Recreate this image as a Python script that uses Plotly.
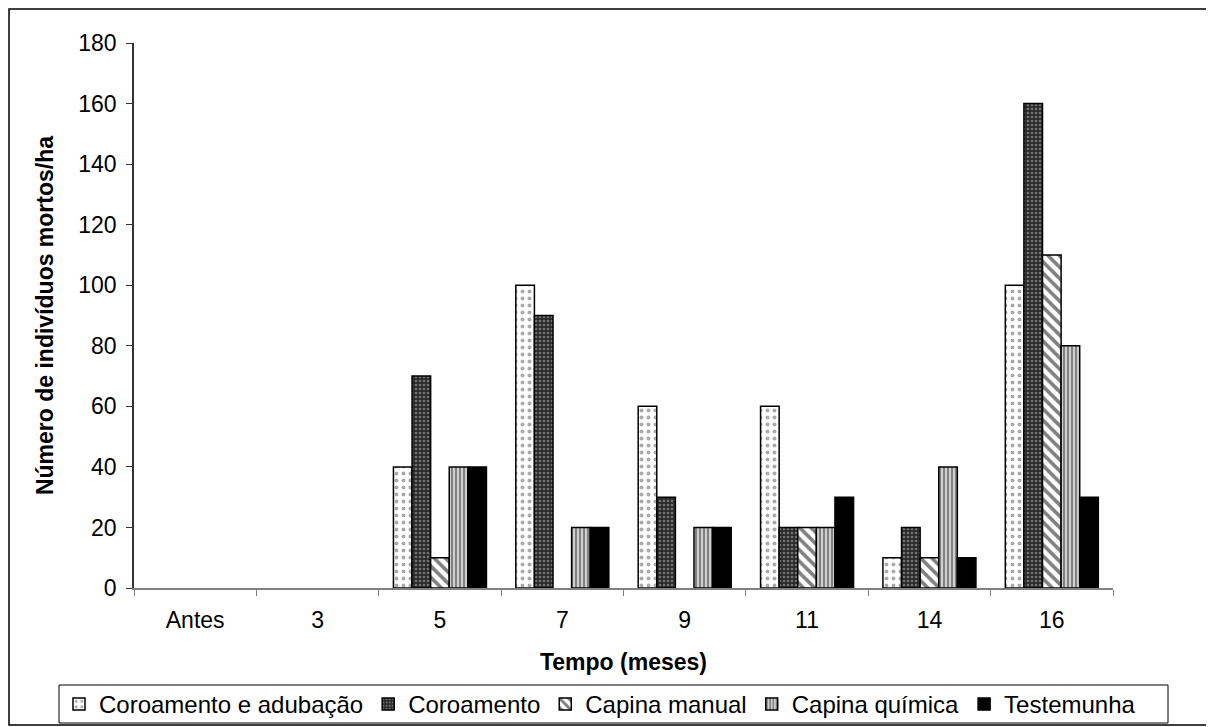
import plotly.graph_objects as go

categories = ["Antes", "3", "5", "7", "9", "11", "14", "16"]
coroamento_adubacao = [0, 0, 40, 100, 60, 60, 10, 100]
coroamento = [0, 0, 70, 90, 30, 20, 20, 160]
capina_manual = [0, 0, 10, 0, 0, 20, 10, 110]
capina_quimica = [0, 0, 40, 20, 20, 20, 40, 80]
testemunha = [0, 0, 40, 20, 20, 30, 10, 30]

series = [
    ("Coroamento e adubação", coroamento_adubacao, dict(shape=".", bgcolor="white", fgcolor="#555555", size=7, solidity=0.25)),
    ("Coroamento", coroamento, dict(shape=".", bgcolor="#2a2a2a", fgcolor="#bbbbbb", size=4, solidity=0.35)),
    ("Capina manual", capina_manual, dict(shape="\\", bgcolor="white", fgcolor="black", size=8, solidity=0.45)),
    ("Capina química", capina_quimica, dict(shape="|", bgcolor="#cfcfcf", fgcolor="#333333", size=4, solidity=0.5)),
    ("Testemunha", testemunha, None),
]

fig = go.Figure()
for name, vals, pat in series:
    marker = dict(color="black" if pat is None else "white", line=dict(color="black", width=1.5))
    if pat is not None:
        marker["pattern"] = pat
    # zero values are not drawn (no bar in the reference)
    yvals = [v if v != 0 else None for v in vals]
    fig.add_trace(go.Bar(x=categories, y=yvals, name=name, marker=marker))

# page has an 8px body margin; figure coordinates = page coordinates - 8
OFF = 8
W, H = 1206, 719
L, R, T, B = 134 - OFF, 1113 - OFF, 43 - OFF, 588 - OFF
pw, ph = R - L, B - T

def px(x):
    return (x - OFF - L) / pw

def py(y):
    return (B - (y - OFF)) / ph

fig.update_layout(
    width=W, height=H,
    margin=dict(l=L, r=W - R, t=T, b=H - B, pad=0, autoexpand=False),
    paper_bgcolor="white", plot_bgcolor="white",
    font=dict(family="Liberation Sans, Arial, sans-serif", size=23, color="black"),
    barmode="group", bargap=0.24, bargroupgap=0,
    showlegend=True,
    legend=dict(
        orientation="h", x=px(59), y=py(682), xanchor="left", yanchor="top",
        borderwidth=0, bgcolor="rgba(0,0,0,0)",
        font=dict(size=24), itemwidth=30, tracegroupgap=0,
    ),
    xaxis=dict(
        type="category", showline=True, linecolor="#808080", linewidth=1.5,
        ticks="outside", tickson="boundaries", ticklen=6, tickcolor="#808080",
        showgrid=False, tickfont=dict(size=23), ticklabelstandoff=11,
        title=dict(text="<b>Tempo (meses)</b>", font=dict(size=23), standoff=22),
    ),
    yaxis=dict(
        range=[0, 180], dtick=20, showline=True, linecolor="#333333", linewidth=1.5,
        ticks="outside", ticklen=6, tickcolor="#333333", showgrid=False,
        tickfont=dict(size=23), zeroline=False, ticklabelstandoff=5,
        title=dict(text="<b>Número de indivíduos mortos/ha</b>", font=dict(size=23), standoff=18),
    ),
    shapes=[
        dict(type="rect", xref="paper", yref="paper",
             x0=px(9), x1=px(1212), y0=py(725), y1=py(9),
             line=dict(color="black", width=1.5), fillcolor="rgba(0,0,0,0)", layer="below"),
        dict(type="rect", xref="paper", yref="paper",
             x0=px(59), x1=px(1168), y0=py(723), y1=py(685),
             line=dict(color="black", width=1), fillcolor="rgba(0,0,0,0)", layer="below"),
    ],
)

fig.write_html("out.html")
